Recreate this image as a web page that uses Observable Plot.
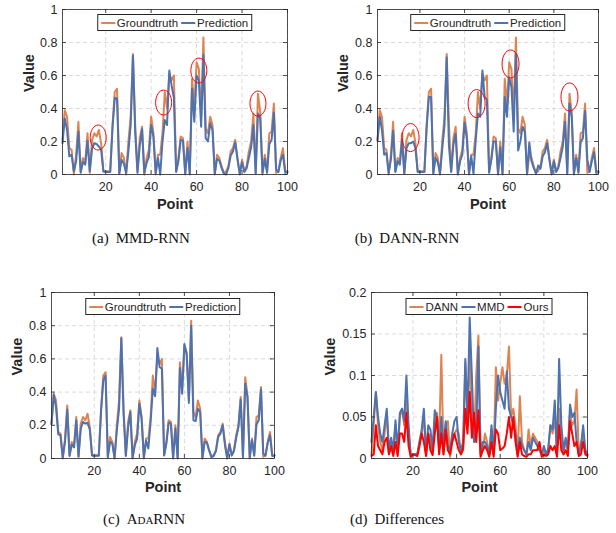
<!DOCTYPE html>
<html>
<head>
<meta charset="utf-8">
<script src="https://cdn.jsdelivr.net/npm/d3@7"></script>
<script src="https://cdn.jsdelivr.net/npm/@observablehq/plot@0.6"></script>
<style>
  body { margin: 0; background: #fff; }
  #root { position: relative; width: 616px; height: 533px; overflow: hidden; background: #fff; font-family: "Liberation Sans", Arial, sans-serif; }
  .panel { position: absolute; }
  .legend { position: absolute; display: flex; align-items: center; background: #fff; border: 1px solid #262626; height: 17px; box-sizing: border-box; padding: 0 3px; font-size: 11.5px; color: #262626; white-space: nowrap; transform: translateX(-50%); }
  .legend .sw { display: inline-block; width: 14px; height: 2px; margin-right: 2px; }
  .legend .it { margin-right: 3px; }
  .legend .it:last-child { margin-right: 0; }
  .cap { position: absolute; font-family: "Liberation Serif", "DejaVu Serif", serif; font-size: 15px; color: #111; transform: translate(-50%, -50%); white-space: nowrap; }
  .cap .n { margin-right: 7px; }
  .sc { font-variant: small-caps; }
</style>
</head>
<body>
<div id="root"></div>
<script>
// ---------- data ----------
const xTicks = [20, 40, 60, 80, 100];
const yTicksValue = [0, 0.2, 0.4, 0.6, 0.8, 1];
const yTicksDiff = [0, 0.05, 0.1, 0.15, 0.2];

const groundtruth = [0.21,0.39,0.35,0.16,0.15,0.00,0.12,0.32,0.02,0.10,
0.07,0.25,0.01,0.21,0.25,0.23,0.27,0.19,0.02,0.02,
0.02,0.02,0.30,0.50,0.52,0.01,0.13,0.10,0.00,0.20,
0.35,0.73,0.30,0.02,0.22,0.29,0.00,0.10,0.15,0.35,
0.25,0.00,0.12,0.12,0.25,0.50,0.40,0.61,0.57,0.60,
0.02,0.10,0.23,0.22,0.00,0.20,0.00,0.58,0.42,0.68,
0.64,0.35,0.83,0.28,0.25,0.35,0.30,0.00,0.12,0.10,
0.05,0.01,0.02,0.05,0.14,0.16,0.21,0.10,0.00,0.09,
0.02,0.05,0.14,0.20,0.37,0.01,0.49,0.38,0.00,0.12,
0.02,0.25,0.26,0.43,0.01,0.02,0.10,0.16,0.02,0.02];

const predMMD = [0.19,0.34,0.27,0.11,0.12,0.02,0.08,0.26,0.01,0.075,
0.06,0.204,0.02,0.155,0.19,0.185,0.17,0.15,0.018,0.015,
0.015,0.015,0.28,0.465,0.46,0.005,0.09,0.065,0.01,0.142,
0.30,0.72,0.25,0.01,0.175,0.275,0.01,0.07,0.105,0.30,
0.23,0.01,0.10,0.00,0.20,0.33,0.30,0.63,0.54,0.465,
0.015,0.08,0.21,0.205,0.005,0.16,0.005,0.52,0.32,0.60,
0.57,0.29,0.725,0.22,0.20,0.31,0.27,0.005,0.095,0.085,
0.04,0.005,0.00,0.04,0.115,0.14,0.195,0.09,0.005,0.075,
0.015,0.038,0.10,0.165,0.30,0.005,0.37,0.34,0.01,0.095,
0.01,0.185,0.21,0.375,0.03,0.015,0.085,0.12,0.01,0.015];

const predDANN = [0.205,0.35,0.27,0.12,0.13,0.01,0.09,0.265,0.015,0.08,
0.06,0.21,0.005,0.16,0.19,0.19,0.20,0.16,0.015,0.015,
0.015,0.015,0.28,0.47,0.47,0.005,0.10,0.075,0.005,0.155,
0.295,0.71,0.175,0.015,0.18,0.245,0.002,0.08,0.12,0.315,
0.22,0.005,0.11,0.005,0.21,0.37,0.35,0.63,0.47,0.452,
0.01,0.09,0.20,0.20,0.005,0.165,0.005,0.47,0.35,0.59,
0.53,0.26,0.73,0.145,0.20,0.29,0.26,0.005,0.195,0.08,
0.04,0.005,0.055,0.035,0.11,0.135,0.19,0.09,0.005,0.08,
0.015,0.04,0.10,0.17,0.32,0.005,0.43,0.35,0.005,0.10,
0.01,0.195,0.22,0.385,0.09,0.015,0.08,0.135,0.01,0.015];

const predAdaRNN = [0.207,0.385,0.31,0.145,0.14,0.005,0.10,0.295,0.015,0.085,
0.067,0.23,0.013,0.18,0.22,0.21,0.215,0.175,0.018,0.015,
0.016,0.017,0.285,0.47,0.50,0.007,0.10,0.09,0.004,0.17,
0.30,0.725,0.27,0.015,0.185,0.28,0.005,0.08,0.12,0.33,
0.24,0.005,0.108,0.06,0.22,0.42,0.375,0.665,0.55,0.542,
0.018,0.09,0.215,0.21,0.002,0.18,0.002,0.545,0.39,0.69,
0.628,0.335,0.80,0.23,0.225,0.30,0.28,0.002,0.10,0.095,
0.047,0.008,0.015,0.045,0.13,0.15,0.20,0.08,0.002,0.085,
0.017,0.045,0.125,0.19,0.355,0.008,0.45,0.37,0.005,0.11,
0.017,0.205,0.23,0.415,0.03,0.017,0.095,0.14,0.015,0.017];

const diffDANN = [0.005,0.04,0.08,0.04,0.02,0.01,0.03,0.055,0.005,0.02,
0.01,0.04,0.005,0.05,0.06,0.04,0.07,0.03,0.005,0.005,
0.005,0.005,0.02,0.03,0.05,0.005,0.03,0.025,0.005,0.045,
0.055,0.02,0.125,0.005,0.04,0.045,0.002,0.02,0.03,0.035,
0.03,0.005,0.01,0.115,0.04,0.13,0.05,0.02,0.10,0.148,
0.01,0.01,0.03,0.02,0.005,0.035,0.005,0.11,0.07,0.09,
0.11,0.09,0.10,0.135,0.05,0.06,0.04,0.005,0.075,0.02,
0.01,0.005,0.035,0.015,0.03,0.025,0.02,0.01,0.005,0.01,
0.005,0.01,0.04,0.03,0.05,0.005,0.06,0.03,0.005,0.02,
0.01,0.055,0.04,0.045,0.083,0.005,0.02,0.025,0.01,0.005];

const diffMMD = [0.02,0.05,0.08,0.05,0.03,0.02,0.04,0.06,0.01,0.025,
0.01,0.046,0.01,0.055,0.06,0.045,0.10,0.04,0.002,0.005,
0.005,0.005,0.02,0.035,0.06,0.005,0.04,0.035,0.01,0.058,
0.05,0.01,0.05,0.01,0.045,0.015,0.01,0.03,0.045,0.05,
0.02,0.01,0.02,0.12,0.05,0.17,0.10,0.02,0.03,0.135,
0.005,0.02,0.02,0.015,0.005,0.04,0.005,0.06,0.10,0.08,
0.07,0.06,0.105,0.06,0.05,0.04,0.03,0.005,0.025,0.015,
0.01,0.005,0.02,0.01,0.025,0.02,0.015,0.01,0.005,0.015,
0.005,0.012,0.04,0.035,0.07,0.005,0.12,0.04,0.01,0.025,
0.01,0.065,0.05,0.055,0.02,0.005,0.015,0.04,0.01,0.005];

const diffOurs = [0.003,0.005,0.04,0.015,0.01,0.005,0.02,0.025,0.005,0.015,
0.003,0.02,0.003,0.03,0.03,0.02,0.055,0.015,0.002,0.005,
0.004,0.003,0.015,0.03,0.02,0.003,0.03,0.01,0.004,0.03,
0.05,0.005,0.03,0.005,0.035,0.01,0.005,0.02,0.03,0.02,
0.01,0.005,0.012,0.06,0.03,0.08,0.025,0.055,0.02,0.058,
0.002,0.01,0.015,0.01,0.002,0.02,0.002,0.035,0.03,0.01,
0.012,0.015,0.03,0.05,0.025,0.05,0.02,0.002,0.02,0.005,
0.003,0.002,0.005,0.005,0.01,0.01,0.01,0.02,0.002,0.005,
0.003,0.005,0.015,0.01,0.015,0.002,0.04,0.01,0.005,0.01,
0.003,0.045,0.03,0.015,0.02,0.003,0.005,0.02,0.005,0.003];

// red ellipse annotations (point index, value)
const circlesA_x = [16.7, 45.5, 61, 87];
const circlesA_y = [0.224, 0.436, 0.63, 0.43];
const circlesB_x = [15.8, 45.4, 60.6, 87];
const circlesB_y = [0.224, 0.43, 0.67, 0.47];

const ORANGE = "#DD8452", BLUE = "#4C72B0", RED = "#FF0000", INK = "#262626";

// ---------- helpers ----------
function ellipseSymbol(rx, ry) {
  const k = 0.5523;
  return {
    draw(c) {
      c.moveTo(rx, 0);
      c.bezierCurveTo(rx, ry * k, rx * k, ry, 0, ry);
      c.bezierCurveTo(-rx * k, ry, -rx, ry * k, -rx, 0);
      c.bezierCurveTo(-rx, -ry * k, -rx * k, -ry, 0, -ry);
      c.bezierCurveTo(rx * k, -ry, rx, -ry * k, rx, 0);
      c.closePath();
    }
  };
}

const root = document.getElementById("root");

function panel(cfg) {
  const iw = cfg.W - cfg.ml - cfg.mr, ih = cfg.H - cfg.mt - cfg.mb;
  const marks = [
    Plot.gridX(xTicks, {stroke: "#d2d2d2", strokeOpacity: 1, strokeDasharray: "4,3", strokeWidth: 0.8}),
    Plot.gridY(cfg.yTicks, {stroke: "#d2d2d2", strokeOpacity: 1, strokeDasharray: "4,3", strokeWidth: 0.8}),
    ...cfg.series.map(s => Plot.line(s.values, {x: (d, i) => i + 1, y: d => d, stroke: s.color, strokeWidth: 2, strokeLinejoin: "round"})),
  ];
  if (cfg.circles) {
    marks.push(Plot.dot(cfg.circles.x, {x: d => d, y: (d, i) => cfg.circles.y[i], symbol: ellipseSymbol(cfg.circles.rx, cfg.circles.ry), fill: "none", stroke: RED, strokeWidth: 1}));
  }
  marks.push(
    Plot.frame({stroke: INK, strokeWidth: 0.8}),
    Plot.ruleX(xTicks, {x: d => d, insetTop: ih - 4, stroke: INK, strokeWidth: 0.8}),
    Plot.ruleX(xTicks, {x: d => d, insetBottom: ih - 4, stroke: INK, strokeWidth: 0.8}),
    Plot.ruleY(cfg.yTicks, {y: d => d, insetRight: iw - 4, stroke: INK, strokeWidth: 0.8}),
    Plot.ruleY(cfg.yTicks, {y: d => d, insetLeft: iw - 4, stroke: INK, strokeWidth: 0.8}),
    Plot.axisX(xTicks, {tickSize: 0, tickPadding: 8, tickFormat: d => String(d), label: null, fontSize: 12.5}),
    Plot.axisY(cfg.yTicks, {tickSize: 0, tickPadding: 5, tickFormat: d => String(d), label: null, fontSize: 12.5}),
    Plot.text(["Value"], {text: d => d, frameAnchor: "left", dx: cfg.valueDx, rotate: -90, fontWeight: "bold", fontSize: 14.5, fill: INK}),
    Plot.text(["Point"], {text: d => d, frameAnchor: "bottom", dy: cfg.pointDy, lineAnchor: "middle", fontWeight: "bold", fontSize: 14.5, fill: INK})
  );
  const chart = Plot.plot({
    width: cfg.W, height: cfg.H,
    marginLeft: cfg.ml, marginRight: cfg.mr, marginTop: cfg.mt, marginBottom: cfg.mb,
    x: {domain: [1, 100]},
    y: {domain: cfg.yDomain},
    style: {fontFamily: '"Liberation Sans", Arial, sans-serif', fontSize: "12.5px", color: INK, background: "transparent", overflow: "visible"},
    marks
  });
  const div = document.createElement("div");
  div.className = "panel";
  div.style.left = cfg.left + "px";
  div.style.top = cfg.top + "px";
  div.appendChild(chart);
  root.appendChild(div);

  // legend box inside the frame, centered at the top
  const lg = document.createElement("div");
  lg.className = "legend";
  lg.style.left = (cfg.left + cfg.ml + iw / 2) + "px";
  lg.style.top = (cfg.top + cfg.mt + cfg.legendTop) + "px";
  cfg.legend.forEach(item => {
    const it = document.createElement("span");
    it.className = "it";
    it.style.display = "flex";
    it.style.alignItems = "center";
    const sw = document.createElement("span");
    sw.className = "sw";
    sw.style.background = item.color;
    const tx = document.createElement("span");
    tx.textContent = item.name;
    it.appendChild(sw); it.appendChild(tx);
    lg.appendChild(it);
  });
  root.appendChild(lg);
}

panel({
  left: 0, top: 0, W: 300, H: 218, ml: 62, mr: 13, mt: 9, mb: 44,
  yDomain: [0, 1], yTicks: yTicksValue, valueDx: -33, pointDy: 30, legendTop: 5,
  series: [{values: groundtruth, color: ORANGE}, {values: predMMD, color: BLUE}],
  circles: {x: circlesA_x, y: circlesA_y, rx: 8, ry: 12.5},
  legend: [{name: "Groundtruth", color: ORANGE}, {name: "Prediction", color: BLUE}]
});
panel({
  left: 300, top: 0, W: 316, H: 218, ml: 77, mr: 18, mt: 9, mb: 44,
  yDomain: [0, 1], yTicks: yTicksValue, valueDx: -34, pointDy: 30, legendTop: 5,
  series: [{values: groundtruth, color: ORANGE}, {values: predDANN, color: BLUE}],
  circles: {x: circlesB_x, y: circlesB_y, rx: 8.5, ry: 14},
  legend: [{name: "Groundtruth", color: ORANGE}, {name: "Prediction", color: BLUE}]
});
panel({
  left: 0, top: 280, W: 300, H: 218, ml: 51, mr: 26, mt: 12, mb: 40,
  yDomain: [0, 1], yTicks: yTicksValue, valueDx: -34, pointDy: 29, legendTop: 6,
  series: [{values: groundtruth, color: ORANGE}, {values: predAdaRNN, color: BLUE}],
  legend: [{name: "Groundtruth", color: ORANGE}, {name: "Prediction", color: BLUE}]
});
panel({
  left: 300, top: 280, W: 316, H: 218, ml: 71, mr: 29, mt: 12, mb: 40,
  yDomain: [0, 0.2], yTicks: yTicksDiff, valueDx: -41, pointDy: 29, legendTop: 6,
  series: [{values: diffDANN, color: ORANGE}, {values: diffMMD, color: BLUE}, {values: diffOurs, color: RED}],
  legend: [{name: "DANN", color: ORANGE}, {name: "MMD", color: BLUE}, {name: "Ours", color: RED}]
});

// captions
const captions = [
  {x: 141, y: 238, n: "(a)", html: "MMD-RNN"},
  {x: 407, y: 238, n: "(b)", html: "DANN-RNN"},
  {x: 144, y: 519, n: "(c)", html: '<span class="sc">AdaRNN</span>'},
  {x: 397, y: 519, n: "(d)", html: "Differences"}
];
captions.forEach(c => {
  const d = document.createElement("div");
  d.className = "cap";
  d.style.left = c.x + "px";
  d.style.top = c.y + "px";
  d.innerHTML = '<span class="n">' + c.n + '</span>' + c.html;
  root.appendChild(d);
});
</script>
</body>
</html>
